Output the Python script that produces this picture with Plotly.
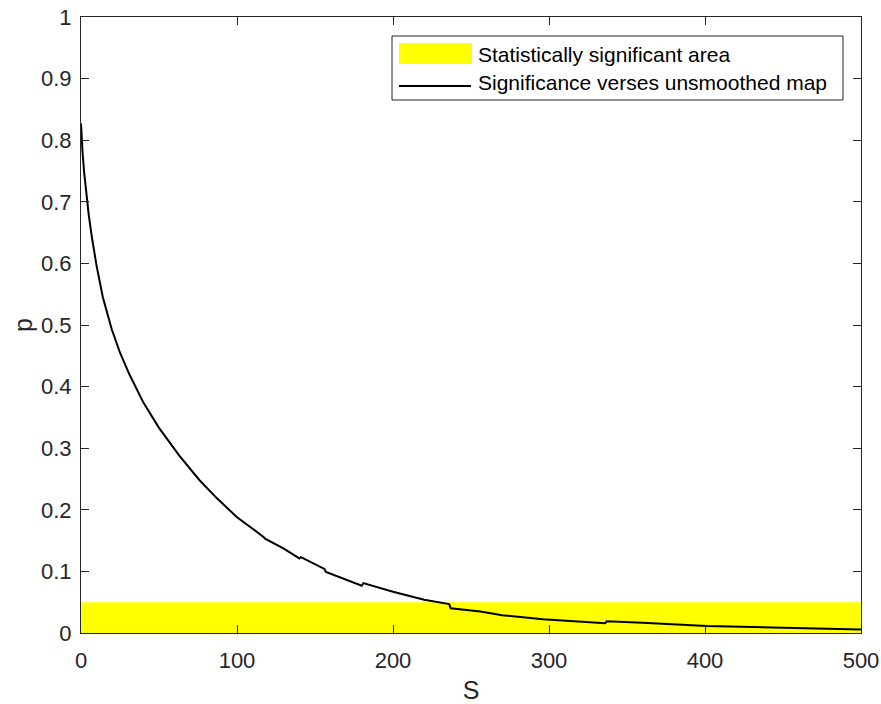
import plotly.graph_objects as go

# ---- data ----
S = [0, 0.5, 1, 2, 3.5, 5, 7, 10, 14, 19.7, 25, 31, 40, 50, 63, 76, 87, 100,
     117, 118, 130, 140, 141, 150, 156, 157, 170, 180, 181, 200, 220,
     236, 237, 256, 270, 296, 336, 337, 360, 401, 450, 500]
p = [0.827, 0.80, 0.78, 0.748, 0.71, 0.678, 0.642, 0.596, 0.545, 0.493, 0.455,
     0.42, 0.374, 0.333, 0.288, 0.248, 0.219, 0.188,
     0.156, 0.153, 0.137, 0.121, 0.123, 0.112, 0.104, 0.099, 0.087,
     0.0767, 0.081, 0.067, 0.054,
     0.047, 0.040, 0.035, 0.029, 0.0225, 0.0157, 0.0192, 0.0165,
     0.0115, 0.0085, 0.0056]
band_x = [0, 500]
band_threshold = [0.05, 0.05]
x_ticks = [0, 100, 200, 300, 400, 500]
y_ticks = [0, 0.1, 0.2, 0.3, 0.4, 0.5, 0.6, 0.7, 0.8, 0.9, 1]
y_tick_labels = ["0", "0.1", "0.2", "0.3", "0.4", "0.5", "0.6", "0.7", "0.8", "0.9", "1"]
legend_labels = ["Statistically significant area", "Significance verses unsmoothed map"]

# ---- layout geometry (body margin removed by post_script) ----
W, H = 881, 704
ML, MT = 81, 17
MR = W - 861
MB = H - 633
PW, PH = W - ML - MR, H - MT - MB
def fx(px):  # screen px -> paper
    return (px - ML) / PW
def fy(py):
    return (H - MB - py) / PH

TXT = "#262626"
FONT = "Liberation Sans, Arial, Helvetica, sans-serif"

fig = go.Figure()
fig.add_trace(go.Scatter(x=band_x, y=band_threshold, mode="lines", fill="tozeroy",
                         fillcolor="#FFFF00", line=dict(width=0, color="#FFFF00"),
                         showlegend=False, hoverinfo="skip"))
fig.add_trace(go.Scatter(x=S, y=p, mode="lines", line=dict(color="black", width=2),
                         showlegend=False))

axis_common = dict(showline=True, linecolor=TXT, linewidth=1, mirror="ticks",
                   ticks="inside", ticklen=8, tickcolor=TXT, tickwidth=1,
                   showgrid=False, zeroline=False, automargin=False,
                   ticklabeloverflow="allow",
                   tickfont=dict(family=FONT, size=22, color=TXT))

fig.update_xaxes(range=[0, 500], tickvals=x_ticks, ticklabelstandoff=8,
                 title=dict(text="S", font=dict(family=FONT, size=25, color=TXT), standoff=20),
                 **axis_common)
fig.update_yaxes(range=[0, 1], tickvals=y_ticks, ticktext=y_tick_labels, ticklabelstandoff=4,
                 title=dict(text="p", font=dict(family=FONT, size=25, color=TXT), standoff=1),
                 **axis_common)

# manual legend (MATLAB style)
shapes = [
    dict(type="rect", xref="paper", yref="paper", x0=fx(392), x1=fx(843), y0=fy(100), y1=fy(36),
         line=dict(color=TXT, width=1), fillcolor="white", layer="above"),
    dict(type="rect", xref="paper", yref="paper", x0=fx(399), x1=fx(472), y0=fy(64), y1=fy(43),
         line=dict(width=0), fillcolor="#FFFF00", layer="above"),
    dict(type="line", xref="paper", yref="paper", x0=fx(399), x1=fx(471), y0=fy(86), y1=fy(86),
         line=dict(color="black", width=2), layer="above"),
]
annotations = [
    dict(xref="paper", yref="paper", x=fx(476), y=fy(54.5), text=legend_labels[0],
         xanchor="left", yanchor="middle", showarrow=False,
         font=dict(family=FONT, size=21, color="black")),
    dict(xref="paper", yref="paper", x=fx(476), y=fy(83), text=legend_labels[1],
         xanchor="left", yanchor="middle", showarrow=False,
         font=dict(family=FONT, size=21, color="black")),
]

fig.update_layout(width=W, height=H, margin=dict(l=ML, r=MR, t=MT, b=MB, pad=0),
                  paper_bgcolor="white", plot_bgcolor="white", showlegend=False,
                  shapes=shapes, annotations=annotations,
                  font=dict(family=FONT, color=TXT))

fig.write_html("out.html", config={"displayModeBar": False},
               post_script="document.body.style.margin='0';document.body.style.overflow='hidden';")
